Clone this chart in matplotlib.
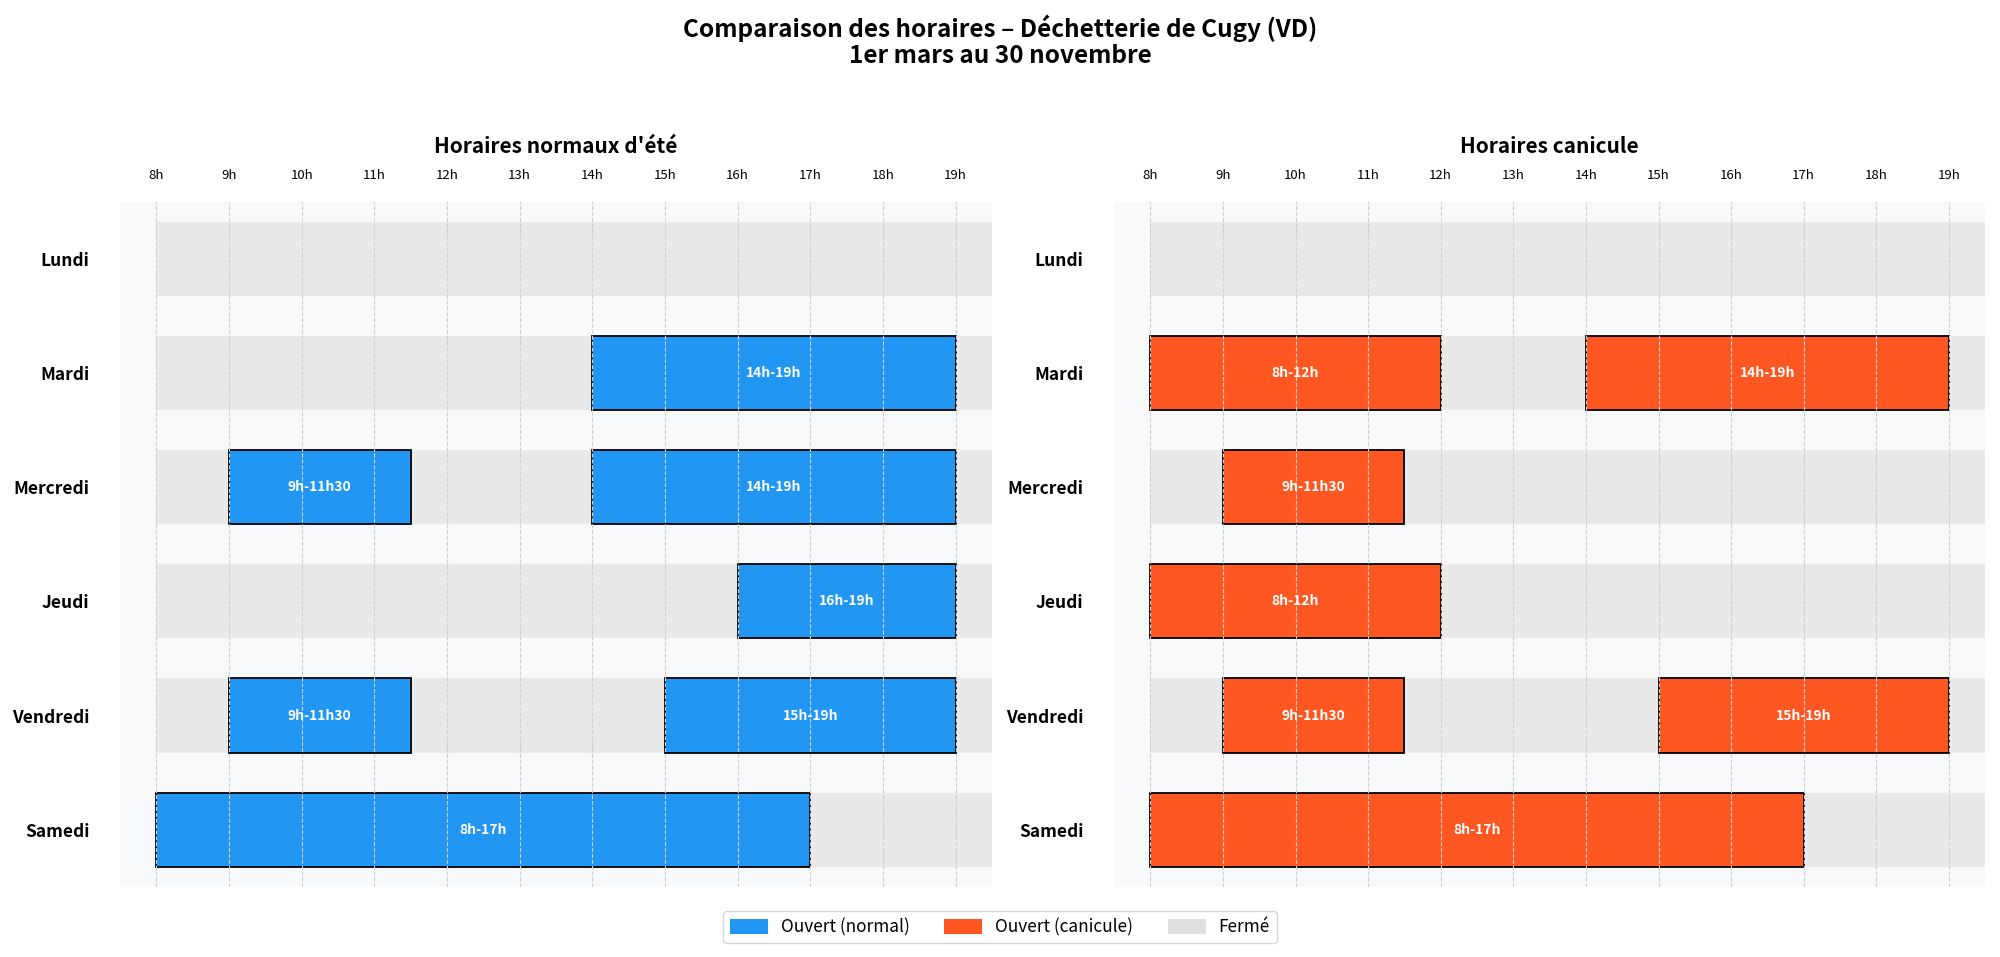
import matplotlib
matplotlib.use("Agg")
import matplotlib.pyplot as plt
from matplotlib.patches import Patch

plt.rcParams['font.family'] = ['Noto Sans CJK JP', 'DejaVu Sans']

days = ["Lundi", "Mardi", "Mercredi", "Jeudi", "Vendredi", "Samedi"]
hours = list(range(8, 20))
hour_labels = [f"{h}h" for h in hours]

# (day index, start, end, label)
normal_slots = [
    (1, 14.0, 19.0, "14h-19h"),
    (2, 9.0, 11.5, "9h-11h30"),
    (2, 14.0, 19.0, "14h-19h"),
    (3, 16.0, 19.0, "16h-19h"),
    (4, 9.0, 11.5, "9h-11h30"),
    (4, 15.0, 19.0, "15h-19h"),
    (5, 8.0, 17.0, "8h-17h"),
]
canicule_slots = [
    (1, 8.0, 12.0, "8h-12h"),
    (1, 14.0, 19.0, "14h-19h"),
    (2, 9.0, 11.5, "9h-11h30"),
    (3, 8.0, 12.0, "8h-12h"),
    (4, 9.0, 11.5, "9h-11h30"),
    (4, 15.0, 19.0, "15h-19h"),
    (5, 8.0, 17.0, "8h-17h"),
]

BLUE = "#2196F3"
ORANGE = "#FF5722"
CLOSED = "#e8e9e8"
LEG_CLOSED = "#e0e0e0"
AX_BG = "#f8f9fa"

fig = plt.figure(figsize=(20, 9.57), dpi=100)
ax1 = fig.add_axes([0.060, 0.0733, 0.436, 0.7160])
ax2 = fig.add_axes([0.557, 0.0733, 0.4356, 0.7160])

def draw(ax, slots, color, title):
    ax.set_facecolor(AX_BG)
    bh = 0.65
    for i in range(len(days)):
        ax.barh(i, 12, left=8, height=bh, color=CLOSED, zorder=1, linewidth=0)
    for d, s, e, lab in slots:
        ax.barh(d, e - s, left=s, height=bh, color=color, edgecolor="black",
                linewidth=1.3, zorder=2)
        ax.text((s + e) / 2, d, lab, ha="center", va="center", color="white",
                fontsize=10, fontweight="bold", zorder=4)
    ax.set_xlim(7.5, 19.5)
    ax.set_ylim(len(days) - 0.5, -0.5)
    ax.set_yticks(range(len(days)))
    ax.set_yticklabels(days, fontsize=12.5, fontweight="bold")
    ax.set_xticks(hours)
    ax.set_xticklabels(hour_labels, fontsize=9.5)
    ax.xaxis.tick_top()
    ax.tick_params(axis="both", length=0)
    ax.tick_params(axis="x", pad=14)
    ax.tick_params(axis="y", pad=22)
    for sp in ax.spines.values():
        sp.set_visible(False)
    ax.set_axisbelow(False)
    ax.grid(axis="x", linestyle="--", color="#d0d0d0", linewidth=0.8, zorder=3)
    ax.set_title(title, fontsize=15, fontweight="bold", pad=12)

draw(ax1, normal_slots, BLUE, "Horaires normaux d'été")
draw(ax2, canicule_slots, ORANGE, "Horaires canicule")

fig.suptitle("Comparaison des horaires – Déchetterie de Cugy (VD)\n1er mars au 30 novembre",
             x=0.5, y=0.985, fontsize=17.5, fontweight="bold", linespacing=1.1)

handles = [Patch(facecolor=BLUE, label="Ouvert (normal)"),
           Patch(facecolor=ORANGE, label="Ouvert (canicule)"),
           Patch(facecolor=LEG_CLOSED, label="Fermé")]
fig.legend(handles=handles, loc="center", bbox_to_anchor=(0.5, 0.031), ncol=3,
           fontsize=12.4, frameon=True, handlelength=2.2, handleheight=0.9,
           handletextpad=0.75, columnspacing=2.0)

fig.savefig("out.png", dpi=100)
